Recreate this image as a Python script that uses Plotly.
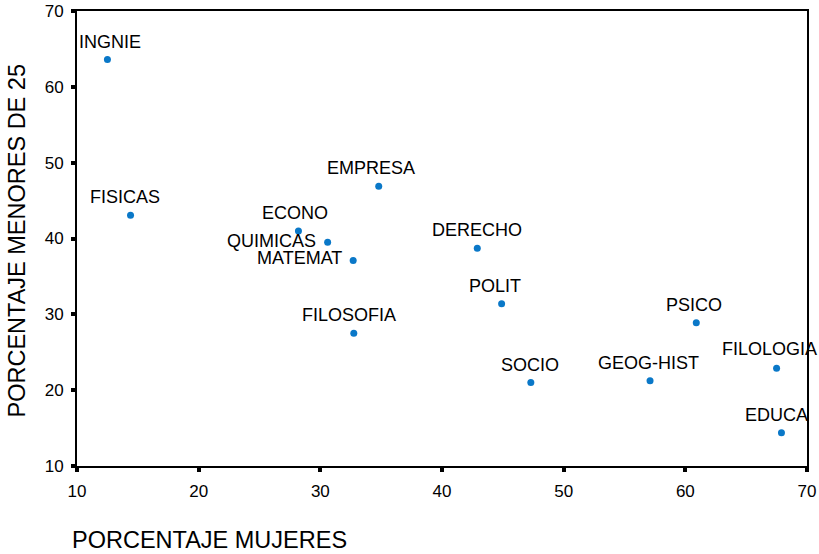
import plotly.graph_objects as go

# ---- data ----
carreras = ["INGNIE", "FISICAS", "ECONO", "QUIMICAS", "MATEMAT", "FILOSOFIA", "EMPRESA",
            "DERECHO", "POLIT", "SOCIO", "GEOG-HIST", "PSICO", "FILOLOGIA", "EDUCA"]
pct_mujeres = [12.5, 14.4, 28.2, 30.6, 32.7, 32.75, 34.8, 42.9, 44.9, 47.3, 57.1, 60.9, 67.5, 67.9]
pct_menores25 = [63.6, 43.05, 41.0, 39.5, 37.1, 27.5, 46.9, 38.7, 31.4, 21.0, 21.25, 28.9, 22.9, 14.4]
x_ticks = [10, 20, 30, 40, 50, 60, 70]
y_ticks = [10, 20, 30, 40, 50, 60, 70]
x_title = "PORCENTAJE MUJERES"
y_title = "PORCENTAJE MENORES DE 25"

# ---- label placement (style only) ----
label_style = {
    "INGNIE": dict(xshift=3, yshift=18, xanchor="center"),
    "FISICAS": dict(xshift=-6, yshift=18, xanchor="center"),
    "ECONO": dict(xshift=-3.5, yshift=18, xanchor="center"),
    "QUIMICAS": dict(xshift=-10, yshift=1, xanchor="right"),
    "MATEMAT": dict(xshift=-9, yshift=2, xanchor="right"),
    "FILOSOFIA": dict(xshift=-5, yshift=18, xanchor="center"),
    "EMPRESA": dict(xshift=-8, yshift=18, xanchor="center"),
    "DERECHO": dict(xshift=0, yshift=18, xanchor="center"),
    "POLIT": dict(xshift=-7, yshift=18, xanchor="center"),
    "SOCIO": dict(xshift=-1, yshift=18, xanchor="center"),
    "GEOG-HIST": dict(xshift=-2, yshift=18, xanchor="center"),
    "PSICO": dict(xshift=-2, yshift=18, xanchor="center"),
    "FILOLOGIA": dict(xshift=-7, yshift=19, xanchor="center"),
    "EDUCA": dict(xshift=-5, yshift=18, xanchor="center"),
}

FONT = "Liberation Sans, Arial, sans-serif"

fig = go.Figure()
fig.add_trace(go.Scatter(
    x=pct_mujeres, y=pct_menores25, mode="markers",
    marker=dict(size=7, color="#0a78c8", line=dict(width=0)),
    hovertext=carreras, showlegend=False,
))

annotations = []
for name, xv, yv in zip(carreras, pct_mujeres, pct_menores25):
    st = label_style[name]
    annotations.append(dict(
        x=xv, y=yv, xref="x", yref="y", text=name, showarrow=False,
        xanchor=st["xanchor"], yanchor="middle",
        xshift=st["xshift"], yshift=st["yshift"],
        font=dict(family=FONT, size=18, color="black"),
    ))

annotations.append(dict(
    x=-0.0096, y=-0.1626, xref="paper", yref="paper", text=x_title, showarrow=False,
    xanchor="left", yanchor="middle",
    font=dict(family=FONT, size=23.5, color="black"),
))
annotations.append(dict(
    x=-0.0822, y=0.4956, xref="paper", yref="paper", text=y_title, showarrow=False,
    xanchor="center", yanchor="middle", textangle=-90,
    font=dict(family=FONT, size=23.5, color="black"),
))

axis_common = dict(
    showgrid=False, zeroline=False, showline=True, linecolor="black", linewidth=2,
    mirror=True, ticks="outside", ticklen=4, tickwidth=4, tickcolor="black",
    tickfont=dict(family=FONT, size=17, color="black"),
)

fig.update_layout(
    width=819, height=554,
    margin=dict(l=77, r=12, t=11, b=88, autoexpand=False),
    paper_bgcolor="white", plot_bgcolor="white",
    xaxis=dict(range=[10, 70], tickvals=x_ticks, ticktext=[str(v) for v in x_ticks],
               ticklabelstandoff=5, **axis_common),
    yaxis=dict(range=[10, 70], tickvals=y_ticks, ticktext=[str(v) for v in y_ticks],
               ticklabelstandoff=4, **axis_common),
    annotations=annotations,
)

fig.write_html("out.html", config={"displayModeBar": False},
               post_script="document.body.style.margin='0';document.body.style.padding='0';")
